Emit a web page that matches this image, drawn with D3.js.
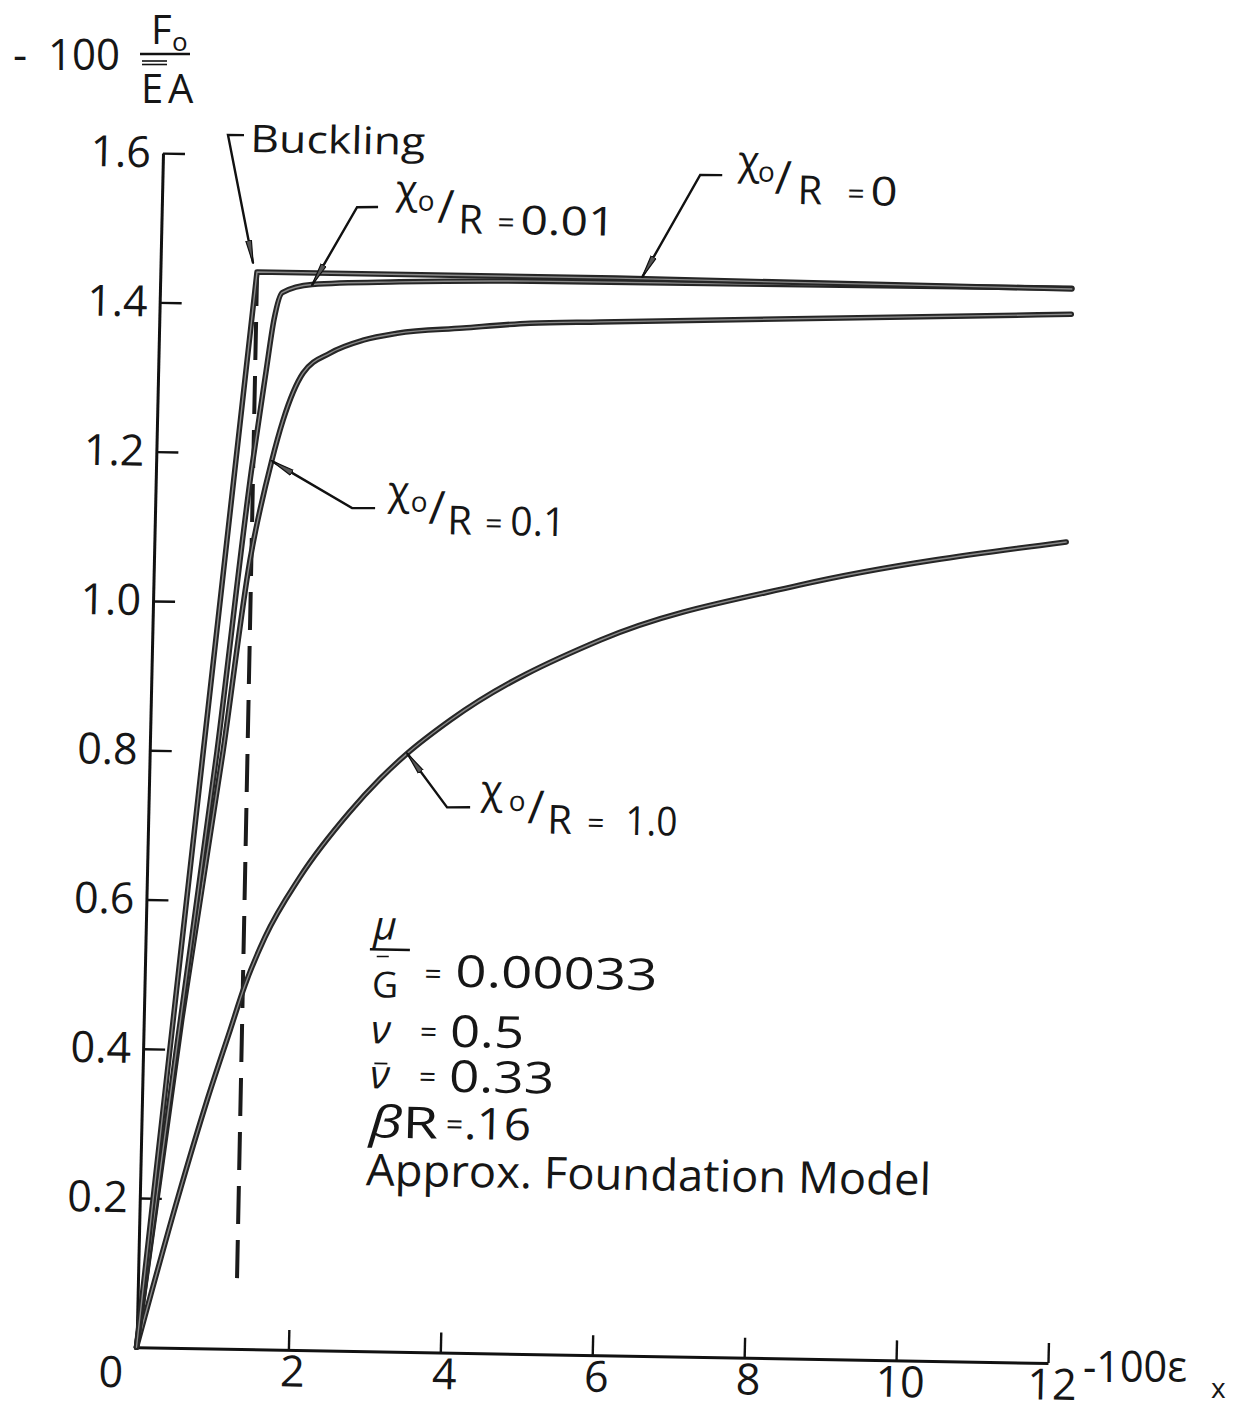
<!DOCTYPE html>
<html>
<head>
<meta charset="utf-8">
<script src="https://cdn.jsdelivr.net/npm/d3@7"></script>
<style>
  body { margin: 0; background: #fff; }
  text { font-family: "Open Sans", "DejaVu Sans", sans-serif; font-weight: 400; fill: #161616; }
</style>
</head>
<body>
<script>
// axis ticks
const strainTicks = [2, 4, 6, 8, 10, 12];
const strainLabels = ["2", "4", "6", "8", "10", "12"];
const loadTicks = [0.2, 0.4, 0.6, 0.8, 1.0, 1.2, 1.4, 1.6];
const loadLabels = ["0.2", "0.4", "0.6", "0.8", "1.0", "1.2", "1.4", "1.6"];

// curves: [-100 eps_x, -100 F0/EA]
const perfect = [[0, 0], [1.272, 1.443], [6.0, 1.443], [12.0, 1.439]];
const imp001 = [[0, 0], [0.45, 0.41], [0.886, 0.80], [1.26, 1.18], [1.42, 1.31], [1.51, 1.38],
  [1.61, 1.416], [2.0, 1.4275], [3.15, 1.433], [4.9, 1.437], [12.0, 1.44]];
const imp01 = [[0, 0], [0.5, 0.44], [0.965, 0.80], [1.264, 1.057], [1.52, 1.19], [1.658, 1.245],
  [1.907, 1.3085], [2.257, 1.336], [2.688, 1.354], [3.133, 1.364], [4.0, 1.3726], [4.88, 1.3807],
  [5.8, 1.384], [12.0, 1.405]];
const imp1 = [[0, 0], [0.503, 0.202], [0.85, 0.33], [1.14, 0.427], [1.32, 0.487], [1.57, 0.552],
  [2.01, 0.633], [2.65, 0.722], [3.04, 0.767], [3.383, 0.801], [3.944, 0.847], [5.9, 0.958],
  [8.5, 1.036], [12.0, 1.10]];
const bucklingLine = [[1.303, 0.095], [1.273, 1.439]];

const svg = d3.select("body").append("svg")
  .attr("width", 1246)
  .attr("height", 1412)
  .style("background", "#fff");

const defs = svg.append("defs");
defs.append("marker")
  .attr("id", "arrow")
  .attr("viewBox", "0 0 24 8")
  .attr("refX", 23).attr("refY", 4)
  .attr("markerWidth", 24).attr("markerHeight", 8)
  .attr("markerUnits", "userSpaceOnUse")
  .attr("orient", "auto")
  .append("path")
  .attr("d", "M0,1.2 L24,4 L0,6.8 Z")
  .attr("fill", "#555").attr("stroke", "#111").attr("stroke-width", 1.2);

const W = 911.5, H = 1194.2;
const x = d3.scaleLinear().domain([0, 12]).range([0, W]);
const y = d3.scaleLinear().domain([0, 1.6]).range([H, 0]);

// the scanned figure is tilted slightly
const g = svg.append("g").attr("transform", "matrix(1,0.0172,-0.0222,1,163,153.1)");

// axes
const yAxis = d3.axisLeft(y).tickValues(loadTicks)
  .tickFormat((d, i) => loadLabels[i])
  .tickSize(-22).tickPadding(12).tickSizeOuter(0);
const xAxis = d3.axisBottom(x).tickValues(strainTicks)
  .tickFormat((d, i) => strainLabels[i])
  .tickSize(-20).tickPadding(6).tickSizeOuter(0);

const gy = g.append("g").call(yAxis);
const gx = g.append("g").attr("transform", `translate(0,${H})`).call(xAxis);
[gy, gx].forEach(a => {
  a.attr("font-family", null).attr("font-size", null);
  a.select(".domain").attr("stroke", "#111").attr("stroke-width", 3);
  a.selectAll(".tick line").attr("stroke", "#111").attr("stroke-width", 2.4);
  a.selectAll(".tick text").attr("font-size", 43).attr("fill", "#161616");
});
gx.selectAll(".tick text").attr("dx", 4);
g.append("text")
  .attr("x", x(0) - 25).attr("y", y(0) + 40)
  .attr("text-anchor", "middle").attr("font-size", 43)
  .text("0");

// buckling strain (dashed)
const straight = d3.line().x(d => x(d[0])).y(d => y(d[1]));
const smooth = d3.line().x(d => x(d[0])).y(d => y(d[1])).curve(d3.curveMonotoneX);

g.append("path")
  .attr("d", straight(bucklingLine))
  .attr("fill", "none").attr("stroke", "#1a1a1a")
  .attr("stroke-width", 4).attr("stroke-dasharray", "38,16");

// load curves
const curves = [
  { data: imp1, gen: smooth },
  { data: imp01, gen: smooth },
  { data: imp001, gen: smooth },
  { data: perfect, gen: straight }
];
curves.forEach(c => {
  g.append("path").attr("d", c.gen(c.data))
    .attr("fill", "none").attr("stroke", "#262626").attr("stroke-width", 5.5)
    .attr("stroke-linecap", "round").attr("stroke-linejoin", "round");
  g.append("path").attr("d", c.gen(c.data))
    .attr("fill", "none").attr("stroke", "#8a8a8a").attr("stroke-width", 1.4)
    .attr("stroke-linecap", "round").attr("stroke-linejoin", "round");
});

// leader lines with arrows
const leaders = [
  [[1.061, 1.626], [0.850, 1.6257], [1.217, 1.4547]],
  [[2.846, 1.5327], [2.570, 1.532], [2.0, 1.4267]],
  [[7.366, 1.5834], [7.076, 1.583], [6.343, 1.445]],
  [[2.895, 1.1294], [2.592, 1.1289], [1.525, 1.19]],
  [[4.233, 0.7309], [3.930, 0.7303], [3.387, 0.8019]]
];
leaders.forEach(p => {
  g.append("path").attr("d", straight(p))
    .attr("fill", "none").attr("stroke", "#111").attr("stroke-width", 2.4)
    .attr("marker-end", "url(#arrow)");
});

g.append("text")
  .attr("x", x(1.145)).attr("y", y(1.6035))
  .attr("font-size", 38).attr("textLength", 175).attr("lengthAdjust", "spacingAndGlyphs")
  .text("Buckling");

// chi_o / R labels
const chiLabels = [
  { at: [3.078, 1.4996], value: "0.01", o: 22, s: 42, r: 63, eq: 102, v: 125, w: 95 },
  { at: [7.571, 1.5463], value: "0", o: 20, s: 37, r: 60, eq: 110, v: 133, w: 27 },
  { at: [3.06, 1.0962], value: "0.1", o: 23, s: 41, r: 60, eq: 98, v: 123, w: 55 },
  { at: [4.371, 0.6976], value: "1.0", o: 28, s: 47, r: 67, eq: 107, v: 145, w: 52 }
];
chiLabels.forEach(a => {
  const t = g.append("g").attr("transform", `translate(${x(a.at[0])},${y(a.at[1])})`);
  t.append("text").attr("x", 0).attr("y", -29).attr("font-size", 40).text("χ");
  t.append("text").attr("x", a.o).attr("y", -22).attr("font-size", 28).text("o");
  t.append("text").attr("x", a.s).attr("y", -10).attr("font-size", 46).attr("font-weight", 300).text("/");
  t.append("text").attr("x", a.r).attr("y", 0).attr("font-size", 40).text("R");
  t.append("text").attr("x", a.eq).attr("y", -1).attr("font-size", 30).text("=");
  t.append("text").attr("x", a.v).attr("y", 0).attr("font-size", 40)
    .attr("textLength", a.w).attr("lengthAdjust", "spacingAndGlyphs").text(a.value);
});

// parameter block
const pb = g.append("g").attr("transform", `translate(${x(2.995)},${y(0.4902)})`);
pb.append("text").attr("x", 0).attr("y", -46).attr("font-size", 40).attr("font-style", "italic").text("μ");
pb.append("line").attr("x1", -3).attr("x2", 37).attr("y1", -36).attr("y2", -36).attr("stroke", "#111").attr("stroke-width", 2.4);
pb.append("line").attr("x1", 4).attr("x2", 16).attr("y1", -29).attr("y2", -29).attr("stroke", "#111").attr("stroke-width", 1.5);
pb.append("text").attr("x", 0).attr("y", 12).attr("font-size", 36).text("G");
pb.append("text").attr("x", 52).attr("y", -2).attr("font-size", 30).text("=");
pb.append("text").attr("x", 83).attr("y", 0).attr("font-size", 44)
  .attr("textLength", 202).attr("lengthAdjust", "spacingAndGlyphs").text("0.00033");

pb.append("text").attr("x", 0).attr("y", 58).attr("font-size", 40).attr("font-style", "italic").text("ν");
pb.append("text").attr("x", 49).attr("y", 56).attr("font-size", 30).text("=");
pb.append("text").attr("x", 79).attr("y", 60).attr("font-size", 44)
  .attr("textLength", 74).attr("lengthAdjust", "spacingAndGlyphs").text("0.5");

pb.append("text").attr("x", 0).attr("y", 103).attr("font-size", 40).attr("font-style", "italic").text("ν");
pb.append("line").attr("x1", 4).attr("x2", 17).attr("y1", 78).attr("y2", 78).attr("stroke", "#111").attr("stroke-width", 1.8);
pb.append("text").attr("x", 49).attr("y", 101).attr("font-size", 30).text("=");
pb.append("text").attr("x", 79).attr("y", 105).attr("font-size", 44)
  .attr("textLength", 105).attr("lengthAdjust", "spacingAndGlyphs").text("0.33");

pb.append("text").attr("x", 0).attr("y", 152).attr("font-size", 44)
  .attr("textLength", 69).attr("lengthAdjust", "spacingAndGlyphs")
  .html('<tspan font-style="italic">β</tspan>R');
pb.append("text").attr("x", 77).attr("y", 148).attr("font-size", 30).text("=");
pb.append("text").attr("x", 95).attr("y", 152).attr("font-size", 44)
  .attr("textLength", 67).attr("lengthAdjust", "spacingAndGlyphs").text(".16");

pb.append("text").attr("x", -2).attr("y", 200).attr("font-size", 44)
  .attr("textLength", 565).attr("lengthAdjust", "spacingAndGlyphs").text("Approx. Foundation Model");

// axis titles (page coordinates)
svg.append("text").attr("x", 13).attr("y", 70).attr("font-size", 44).text("-");
svg.append("text").attr("x", 48).attr("y", 70).attr("font-size", 44)
  .attr("textLength", 72).attr("lengthAdjust", "spacingAndGlyphs").text("100");
svg.append("text").attr("x", 151).attr("y", 44).attr("font-size", 40).text("F");
svg.append("text").attr("x", 172).attr("y", 51).attr("font-size", 26).text("o");
svg.append("line").attr("x1", 140).attr("x2", 190).attr("y1", 54).attr("y2", 54).attr("stroke", "#111").attr("stroke-width", 2.4);
svg.append("line").attr("x1", 142).attr("x2", 167).attr("y1", 61).attr("y2", 61).attr("stroke", "#111").attr("stroke-width", 1.6);
svg.append("line").attr("x1", 142).attr("x2", 167).attr("y1", 64.5).attr("y2", 64.5).attr("stroke", "#111").attr("stroke-width", 1.6);
svg.append("text").attr("x", 141).attr("y", 103).attr("font-size", 40).text("E");
svg.append("text").attr("x", 168).attr("y", 103).attr("font-size", 40).text("A");

svg.append("text").attr("x", 1083).attr("y", 1382).attr("font-size", 44)
  .attr("textLength", 104).attr("lengthAdjust", "spacingAndGlyphs").text("-100ε");
svg.append("text").attr("x", 1211).attr("y", 1398).attr("font-size", 28).attr("font-weight", 600).text("x");
</script>
</body>
</html>
